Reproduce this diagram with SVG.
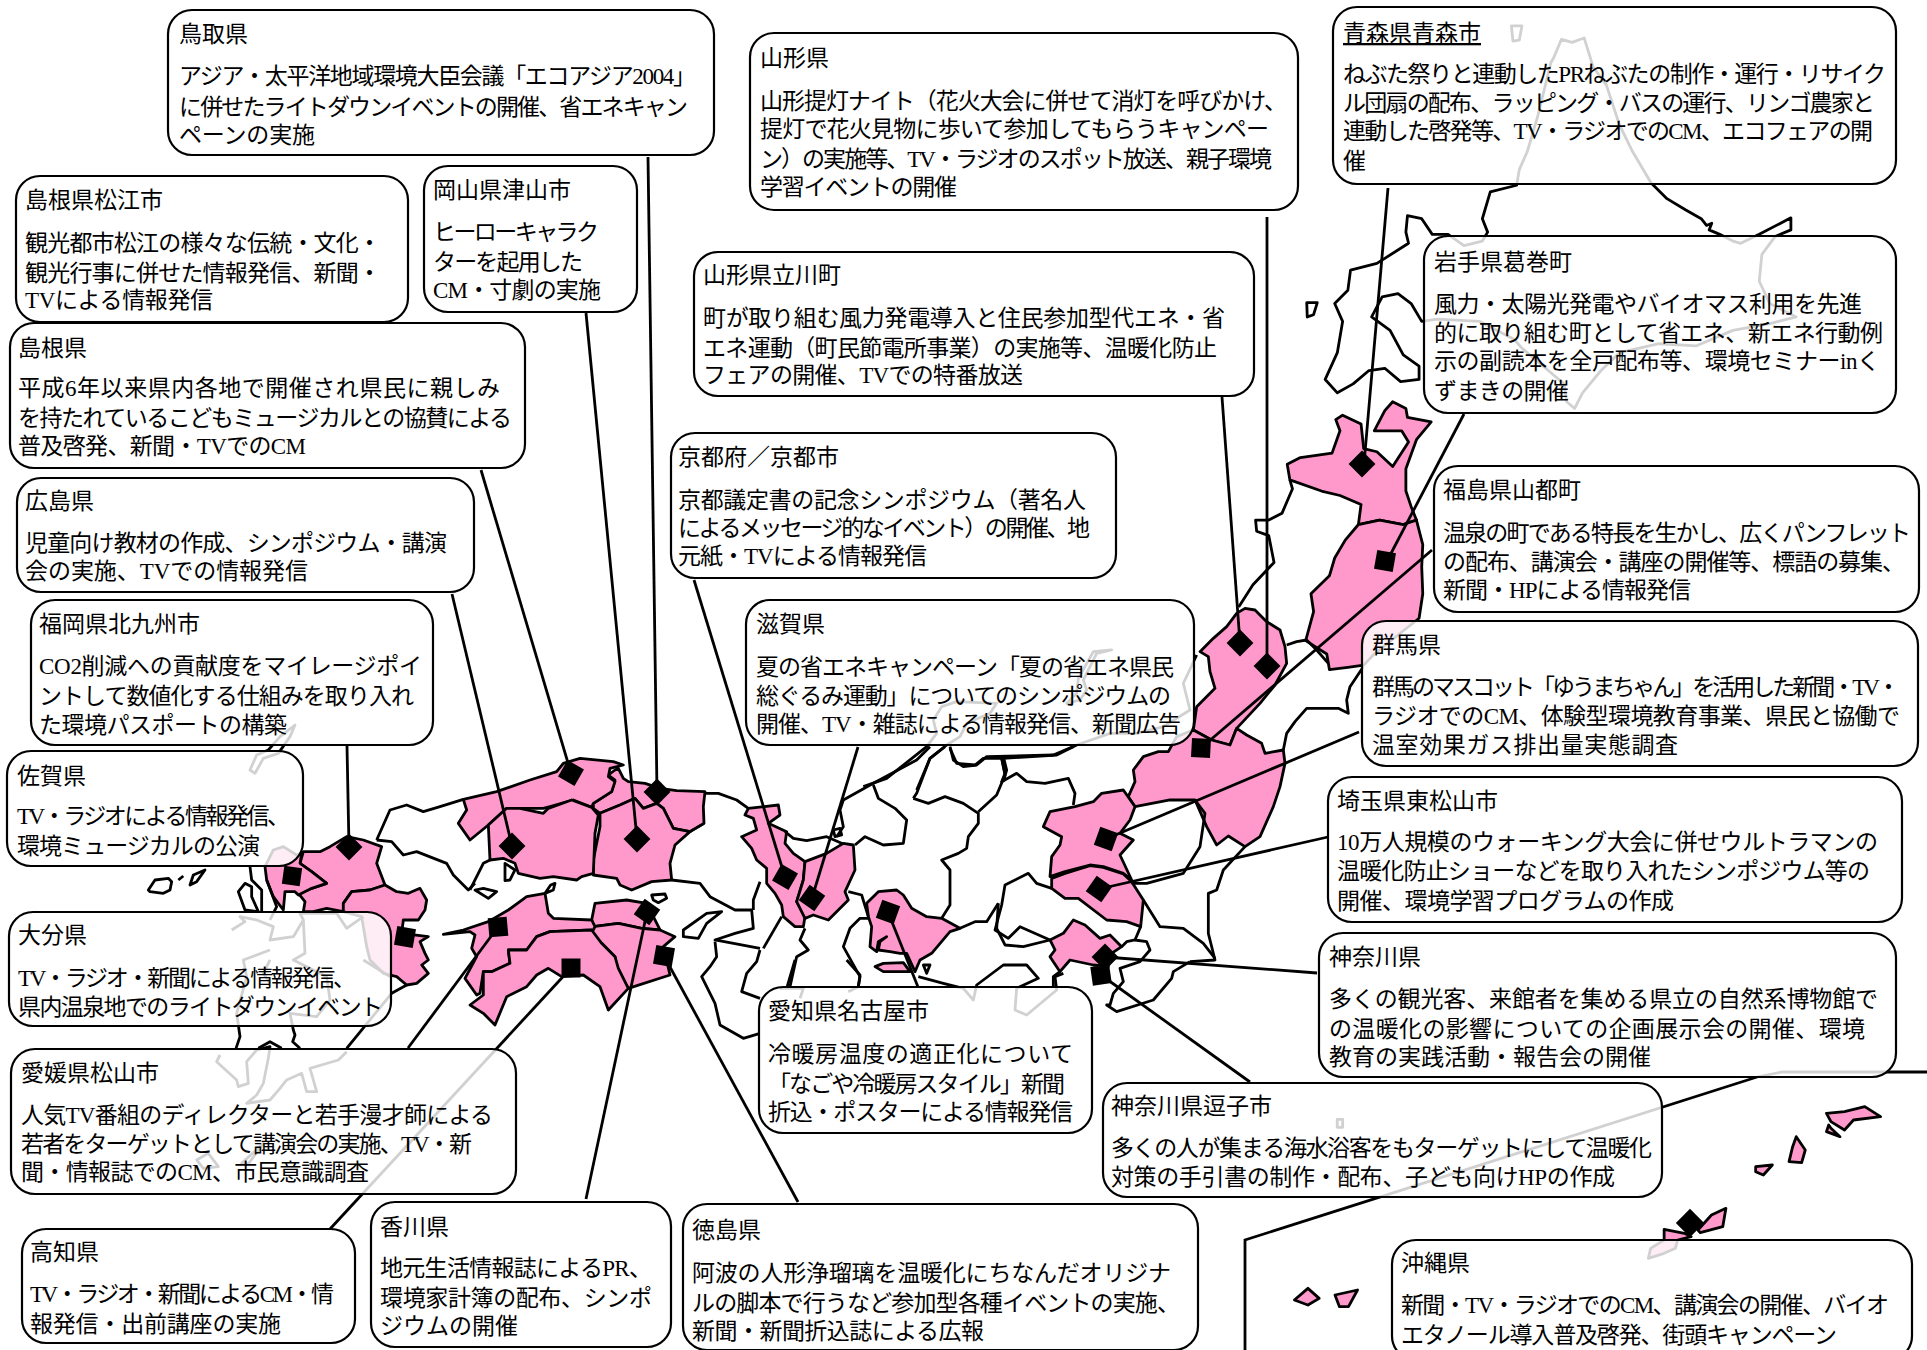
<svg xmlns="http://www.w3.org/2000/svg" width="1927" height="1350" viewBox="0 0 1927 1350">
<style>
.m{fill:none;stroke:#000;stroke-width:2.8;stroke-linejoin:round;vector-effect:non-scaling-stroke}
.p{fill:#ff99cc;stroke:#000;stroke-width:2.8;stroke-linejoin:round;vector-effect:non-scaling-stroke}
.c{stroke:#000;stroke-width:2.8;fill:none}
.d{fill:#000}
.b{fill:#fff;fill-opacity:.82;stroke:#000;stroke-width:2.2}
text{font-family:"Liberation Serif","Noto Sans CJK JP",sans-serif;font-size:23px;fill:#000}
</style>
<rect width="1927" height="1350" fill="#fff"/>
<g id="map">
<g id="map-north" transform="translate(1100,0) scale(.5274,.4464)">
<path class="m" d="M780,58L800,58L795,90L783,92Z"/>
<path class="m" d="M860,130L875,88L895,95L918,85L935,150L960,190L985,280L1010,340L1045,410L1075,445L1110,470L1140,490L1150,505L1160,500L1155,515L1175,525L1200,540L1215,545L1250,525L1310,488L1310,515L1280,530L1255,570L1250,630L1270,680L1320,710L1270,725L1200,740L1130,775L1060,770L985,790L950,830L915,880L900,915L885,900L880,860L850,830L800,780L785,760L720,720L640,715L610,720L590,680L565,658L535,665L515,710L550,740L575,795L605,820L605,850L570,855L540,825L510,830L480,860L450,880L427,850L450,790L460,720L445,680L470,650L475,605L525,590L585,545L580,520L583,483L610,490L630,525L660,525L690,550L725,540L735,520L725,490L740,430L790,415L795,380L810,340L830,260L855,140Z"/>
<path class="m" d="M392,678L412,678L405,705L393,710Z"/>
<path class="p" d="M355,1040L380,1025L440,1015L455,965L447,940L460,930L495,950L500,1005L525,1012L555,1045L585,990L572,965L520,965L540,920L555,900L580,915L583,935L628,945L600,985L580,1050L580,1100L590,1135L600,1165L575,1175L530,1165L490,1175L495,1130L455,1110L420,1100L360,1075Z"/>
<path class="p" d="M490,1175L530,1165L575,1175L600,1165L612,1220L610,1270L612,1330L605,1385L520,1465L500,1490L470,1495L435,1500L430,1465L390,1435L405,1370L400,1330L435,1290L445,1250L465,1210Z"/>
<path class="m" d="M360,1075L365,1095L345,1150L320,1165L295,1165L297,1190L320,1200L330,1260L290,1310L263,1360"/>
</g>
<g id="map-kanto" transform="translate(950,600) scale(.33333)">
<path class="p" d="M730,390L740,320L795,265L780,215L775,170L750,155L790,115L830,80L860,40L885,25L915,30L950,65L990,90L1005,140L1010,190L975,255L930,310L860,385L840,435L785,420Z"/>
<path class="p" d="M860,385L890,405L935,430L945,460L1000,450L1005,490L990,560L970,620L930,710L885,740L835,708L800,735L770,680L735,600L660,600L555,620L535,590L555,545L550,510L580,470L625,455L655,455L680,410L730,390L785,420L840,435Z"/>
<path class="p" d="M555,620L520,570L455,580L430,605L375,620L300,635L280,680L335,710L330,735L305,770L300,830L345,815L420,795L460,800L520,820L545,840L510,765L550,720L510,700L540,660Z"/>
<path class="p" d="M305,835L345,820L420,797L460,802L520,822L545,845L580,900L572,980L530,965L470,960L385,895L345,895L305,865Z"/>
<path class="p" d="M300,1020L340,1000L370,960L405,975L450,1015L480,1005L515,1040L470,1070L475,1100L430,1095L360,1080L330,1115L300,1070L315,1050Z"/>
<path class="m" d="M1010,135L1040,125L1070,120L1100,150L1135,190"/>
<path class="m" d="M1240,200L1200,260L1190,300L1195,340L1175,330L1165,325L1070,325L1035,365L1010,400L1000,450"/>
<path class="m" d="M740,165L700,250L720,330L640,380L560,400L480,400L380,435L320,465L160,475L100,475L75,495L20,490L0,445"/>
<path class="m" d="M155,475L165,520L155,545L200,520L230,545L285,550L355,535L375,580L370,615"/>
<path class="m" d="M305,865L260,850L235,820L165,855L155,915L135,990L175,1015L210,980L300,1020"/>
<path class="m" d="M735,600L765,640L750,740L700,820L590,850L545,850"/>
<path class="m" d="M885,740L820,810L800,870L775,880L775,1000L795,1080L720,1085"/>
<path class="m" d="M580,900L630,980L700,985L760,1030L795,1075"/>
<path class="m" d="M572,980L555,1020L590,1025L600,1050L570,1085L510,1105L520,1145L490,1180L480,1215L470,1215L500,1235L610,1200L665,1135L670,1115L720,1085"/>
<path class="m" d="M515,1040L530,1025L555,1020"/>
<path class="m" d="M330,1115L310,1130L310,1160"/>
</g>
<g id="map-noto" transform="translate(720,590) scale(.33333)">
<path class="m" d="M430,590L500,565L620,470L650,430L640,390L665,350L710,335L830,340L810,370L740,400L720,440L680,465L630,505L590,600"/>
<path class="m" d="M1175,180L1130,190L1090,270L1100,300L1080,330L1040,340L1070,310L1075,265L1120,185Z"/>
<path class="m" d="M690,470L700,510L730,530L770,525L800,500L1000,495L1060,470"/>
<path class="m" d="M850,500L860,540L850,575"/>
</g>
<g id="map-center" transform="translate(550,720) scale(.33333)">
<path class="p" d="M595,265L685,255L690,285L655,310L710,335L705,370L730,400L765,425L760,480L740,545L765,590L760,620L735,620L700,590L695,555L675,520L650,490L650,445L620,420L605,385L575,350L620,330L610,295L585,285Z"/>
<path class="p" d="M765,425L830,400L880,370L910,375L915,450L885,515L895,540L835,600L790,585L765,595L740,545L760,480Z"/>
<path class="p" d="M955,590L950,550L985,515L1040,510L1060,525L1085,565L1130,590L1175,595L1230,625L1200,635L1145,700L1110,720L1095,755L1070,700L1050,700L1020,695L985,690L990,665L1010,650L985,665L980,695L960,680L965,620Z"/>
<path class="p" d="M975,740L1000,730L1060,728L1080,755L1000,755Z"/>
<path class="p" d="M195,150L205,145L220,175L235,185L285,190L330,205L380,212L465,215L460,260L462,310L420,335L370,325L355,295L340,265L320,250L280,265L255,235L210,255L150,280L130,265L130,250L185,215L195,180L175,165Z"/>
<path class="p" d="M150,280L210,255L255,235L280,265L320,250L340,265L370,325L420,335L375,375L360,430L365,480L305,485L245,510L210,495L200,475L130,465L130,420L150,320Z"/>
<path class="p" d="M135,550L230,540L290,550L300,570L330,630L275,625L205,610L130,620L125,600Z"/>
<path class="p" d="M130,620L205,610L275,625L330,630L375,650L340,680L360,765L235,805L225,790L200,740L195,710L155,670L125,650Z"/>
<path class="m" d="M305,525L345,522L350,535L325,548L310,540Z"/>
<path class="m" d="M400,630L470,580L515,575L470,610L445,655L400,650Z"/>
<path class="m" d="M1140,80L1100,120L970,190L880,240L870,270L880,320L860,350"/>
<path class="m" d="M850,330L870,325L875,345L855,350Z"/>
<path class="m" d="M1185,80L1140,115L1100,220L1090,235"/>
<path class="m" d="M970,195L985,235L1035,265L1070,300L1060,370L1000,375L945,350L915,375"/>
<path class="m" d="M1090,235L1135,250L1185,230L1240,250L1285,280L1285,310L1255,350L1250,385L1225,400L1175,420L1200,450L1200,555L1175,595"/>
<path class="m" d="M1285,275L1340,225L1365,165L1355,115"/>
<path class="m" d="M705,335L730,355L770,362L830,350L880,372"/>
<path class="m" d="M465,220L505,220L560,240L595,265"/>
<path class="m" d="M462,310L420,335"/>
<path class="m" d="M365,480L450,490L480,530L555,570L605,570L610,625L555,640L495,660L630,685"/>
<path class="m" d="M630,690L620,725L590,760L575,815L630,835"/>
<path class="m" d="M495,665L500,710L480,740L455,770L495,850L510,915L580,955L630,940"/>
<path class="m" d="M640,685L695,590"/>
<path class="m" d="M630,485L610,540L610,570"/>
<path class="m" d="M765,625L750,660L775,690L740,710L720,800"/>
<path class="m" d="M895,515L935,525L955,590"/>
<path class="m" d="M955,595L930,595L900,625L880,680L930,770L925,800"/>
<path class="m" d="M1230,625L1275,605L1310,605L1345,550"/>
<path class="m" d="M1345,550L1340,625L1365,675L1420,680L1500,660"/>
<path class="m" d="M1120,735L1140,735L1130,760Z"/>
</g>
<g id="map-shizuoka" transform="translate(780,960) scale(.33333)">
<path class="m" d="M415,50L490,70L550,85L580,120L590,75L670,15L740,15L775,55L710,85L705,150L740,165L830,90L825,50L850,40"/>
<path class="m" d="M0,85L70,85L60,115M45,0L20,85M200,0L240,45L235,80L205,95"/>
</g>
<g id="map-west" transform="translate(130,720) scale(.33333)">
<path class="p" d="M1000,238L1100,215L1200,180L1280,155L1300,130L1350,115L1450,125L1480,135L1440,145L1435,170L1455,185L1445,215L1390,250L1385,262L1330,240L1260,260L1240,265L1170,265L1130,265L1075,315L1020,360L985,310L1010,270Z"/>
<path class="p" d="M1130,265L1170,265L1240,280L1255,265L1325,240L1385,262L1405,285L1395,340L1390,460L1355,470L1340,480L1270,470L1230,475L1165,460L1155,430L1120,415L1080,420L1075,315Z"/>
<path class="m" d="M740,360L780,270L830,255L880,275L930,260L1000,238"/>
<path class="m" d="M740,360L785,365L820,405L860,395L950,430L970,465L1015,510L1035,490"/>
<path class="m" d="M1020,510L1060,430L1080,420"/>
<path class="m" d="M1035,510L1075,535L1100,515L1060,505Z"/>
<path class="m" d="M1125,430L1155,450L1140,480L1125,482L1125,455Z"/>
<path class="p" d="M520,395L570,395L600,380L650,350L700,360L755,380L740,430L765,495L720,510L665,515L640,550L640,575L590,565L550,575L520,575L525,545L505,520L545,505L590,490L545,455L510,430Z"/>
<path class="p" d="M405,440L430,390L460,380L500,405L515,400L510,430L545,455L590,490L545,505L505,525L495,515L465,515L460,570L430,530L410,480Z"/>
<path class="p" d="M765,495L800,515L835,520L870,505L890,540L885,570L865,600L820,600L815,640L895,650L870,665L885,700L895,720L875,735L895,760L860,790L830,795L800,770L760,760L720,720L710,680L695,590L640,575L640,550L665,515L720,510Z"/>
<path class="m" d="M830,795L785,820L650,985"/>
<path class="m" d="M360,440L365,480L395,510L395,575M345,490L325,515L345,570L385,575L365,530L365,500ZM410,480L440,560L420,600"/>
<path class="m" d="M55,510L75,480L115,475L125,485L120,510L100,520L60,515Z"/>
<path class="m" d="M145,480L160,468M180,495L190,465L225,450L200,485Z"/>
<path class="m" d="M305,630L345,605L330,590L380,600L430,620L420,660L490,650L520,600L510,580L620,580L650,625L700,590"/>
<path class="m" d="M520,600L525,700L490,720L590,770L600,840L560,890L480,880L490,930L495,945L488,965L510,985"/>
<path class="m" d="M420,690L340,720L350,770L320,880L330,950L318,985"/>
<path class="m" d="M700,720L780,770M420,720L400,760L420,790"/>
<path class="m" d="M385,985L420,965L455,985"/>
<path class="m" d="M1245,520L1262,495L1275,490L1270,510L1245,520"/>
<path class="p" d="M1245,520L1255,580L1270,595L1385,600L1395,620L1390,630L1260,635L1220,650L1190,690L1135,690L1140,730L1085,755L1060,755L1050,820L1040,825L1005,775L1040,710L1025,685L1035,645L1020,635L940,643L1000,630L1075,605L1135,570L1190,530Z"/>
<path class="p" d="M1385,630L1415,670L1455,710L1465,745L1495,805L1435,870L1410,800L1360,765L1295,770L1255,745L1220,765L1190,800L1130,830L1095,915L1060,880L1020,855L1060,825L1060,755L1085,755L1140,730L1135,690L1190,690L1220,650L1260,635Z"/>
</g>
<g id="map-south" transform="translate(170,1020) scale(.33333)">
<path class="m" d="M150,105L140,125L200,180L205,200L235,190L230,125L260,90L300,80L295,115L280,190L260,225L230,250L300,240L330,205L350,180L395,160L410,215L440,215L420,145L505,120L530,95"/>
<path class="m" d="M80,420L115,400L145,440L100,445Z"/>
<path class="m" d="M215,430L280,370L235,432Z"/>
</g>
<g id="map-tsushima" transform="translate(200,600) scale(.33333)">
<path class="m" d="M150,510L170,465L205,450L240,410L285,375L270,410L235,460L190,475L165,520Z"/>
</g>
<g id="map-okinawa" transform="translate(1220,1040) scale(.4509,.33333)">
<path class="p" d="M1345,220L1385,215L1430,200L1465,230L1405,240L1385,270L1355,245Z"/>
<path class="p" d="M1350,255L1345,275L1375,290L1355,265Z"/>
<path class="p" d="M1262,365L1270,320L1278,290L1298,330L1290,368Z"/>
<path class="p" d="M1188,380L1225,375L1205,405L1188,395Z"/>
<path class="p" d="M1060,570L1090,525L1122,505L1115,560L1065,578Z"/>
<path class="p" d="M985,600L985,568L1030,580L1045,590L1015,600L1010,625L985,640L950,655L955,625Z"/>
<path class="p" d="M165,780L195,745L220,775L195,795Z"/>
<path class="p" d="M255,765L305,750L285,800L265,800Z"/>
<path class="m" d="M260,238L272,238L272,262L260,262Z"/>
</g>
</g>
<g id="connectors">
<path class="c" d="M648,157L657,792"/>
<path class="c" d="M586,313L637,839"/>
<path class="c" d="M481,470L571,773"/>
<path class="c" d="M452,594L512,846"/>
<path class="c" d="M347,746L349,847"/>
<path class="c" d="M408,1048L498,927"/>
<path class="c" d="M330,1229L571,968"/>
<path class="c" d="M586,1199L647,912"/>
<path class="c" d="M798,1202L664,956"/>
<path class="c" d="M694,580L785,877"/>
<path class="c" d="M858,747L812,898"/>
<path class="c" d="M918,987L888,912"/>
<path class="c" d="M1222,397L1240,643"/>
<path class="c" d="M1267,217L1267,666"/>
<path class="c" d="M1388,188L1364,464"/>
<path class="c" d="M1464,414L1387,561"/>
<path class="c" d="M1432,550L1201,748"/>
<path class="c" d="M1359,732L1106,839"/>
<path class="c" d="M1328,837L1099,889"/>
<path class="c" d="M1317,973L1105,957"/>
<path class="c" d="M1250,1082L1101,975"/>
<path class="c" d="M1245,1350L1245,1240L1757,1077L1782,1072L1927,1072"/>
</g>
<g id="markers">
<rect class="d" x="-9.5" y="-9.5" width="19" height="19" transform="translate(657,792) rotate(45)"/>
<rect class="d" x="-9.5" y="-9.5" width="19" height="19" transform="translate(637,839) rotate(45)"/>
<rect class="d" x="-9.5" y="-9.5" width="19" height="19" transform="translate(571,773) rotate(30)"/>
<rect class="d" x="-9.5" y="-9.5" width="19" height="19" transform="translate(512,846) rotate(45)"/>
<rect class="d" x="-9.5" y="-9.5" width="19" height="19" transform="translate(349,847) rotate(45)"/>
<rect class="d" x="-9" y="-9" width="18" height="18" transform="translate(292,876) rotate(8)"/>
<rect class="d" x="-9.5" y="-9.5" width="19" height="19" transform="translate(405,937) rotate(10)"/>
<rect class="d" x="-9.5" y="-9.5" width="19" height="19" transform="translate(498,927) rotate(-5)"/>
<rect class="d" x="-9.5" y="-9.5" width="19" height="19" transform="translate(571,968)"/>
<rect class="d" x="-9.5" y="-9.5" width="19" height="19" transform="translate(647,912) rotate(35)"/>
<rect class="d" x="-9.5" y="-9.5" width="19" height="19" transform="translate(664,956) rotate(10)"/>
<rect class="d" x="-9.5" y="-9.5" width="19" height="19" transform="translate(785,877) rotate(30)"/>
<rect class="d" x="-9.5" y="-9.5" width="19" height="19" transform="translate(812,898) rotate(35)"/>
<rect class="d" x="-9.5" y="-9.5" width="19" height="19" transform="translate(888,912) rotate(20)"/>
<rect class="d" x="-9.5" y="-9.5" width="19" height="19" transform="translate(1240,643) rotate(45)"/>
<rect class="d" x="-9.5" y="-9.5" width="19" height="19" transform="translate(1267,666) rotate(45)"/>
<rect class="d" x="-9.5" y="-9.5" width="19" height="19" transform="translate(1362,464) rotate(45)"/>
<rect class="d" x="-9.5" y="-9.5" width="19" height="19" transform="translate(1385,561) rotate(10)"/>
<rect class="d" x="-9.5" y="-9.5" width="19" height="19" transform="translate(1201,748) rotate(3)"/>
<rect class="d" x="-9.5" y="-9.5" width="19" height="19" transform="translate(1106,839) rotate(20)"/>
<rect class="d" x="-9.5" y="-9.5" width="19" height="19" transform="translate(1099,889) rotate(35)"/>
<rect class="d" x="-9.5" y="-9.5" width="19" height="19" transform="translate(1105,957) rotate(45)"/>
<rect class="d" x="-9.5" y="-9.5" width="19" height="19" transform="translate(1101,975) rotate(-8)"/>
<rect class="d" x="-10" y="-10" width="20" height="20" transform="translate(1690,1223) rotate(45)"/>
</g>
<g id="n-tottori"><rect class="b" x="168" y="10" width="546" height="145" rx="24"/><text x="179" y="42">鳥取県</text><text x="179" y="84" textLength="517">アジア・太平洋地域環境大臣会議「エコアジア2004」</text><text x="179" y="115" textLength="509">に併せたライトダウンイベントの開催、省エネキャン</text><text x="179" y="143" textLength="136">ペーンの実施</text></g>
<g id="n-yamagata"><rect class="b" x="750" y="33" width="548" height="177" rx="24"/><text x="760" y="66">山形県</text><text x="760" y="109" textLength="527">山形提灯ナイト（花火大会に併せて消灯を呼びかけ、</text><text x="760" y="137" textLength="509">提灯で花火見物に歩いて参加してもらうキャンペー</text><text x="760" y="167" textLength="512">ン）の実施等、TV・ラジオのスポット放送、親子環境</text><text x="760" y="195" textLength="197">学習イベントの開催</text></g>
<g id="n-aomori"><rect class="b" x="1333" y="7" width="563" height="177" rx="24"/><text x="1343" y="41" text-decoration="underline">青森県青森市</text><text x="1343" y="82" textLength="543">ねぶた祭りと連動したPRねぶたの制作・運行・リサイク</text><text x="1343" y="111" textLength="532">ル団扇の配布、ラッピング・バスの運行、リンゴ農家と</text><text x="1343" y="139" textLength="530">連動した啓発等、TV・ラジオでのCM、エコフェアの開</text><text x="1343" y="169">催</text></g>
<g id="n-iwate"><rect class="b" x="1424" y="236" width="472" height="177" rx="24"/><text x="1434" y="270">岩手県葛巻町</text><text x="1434" y="312" textLength="428">風力・太陽光発電やバイオマス利用を先進</text><text x="1434" y="341" textLength="449">的に取り組む町として省エネ、新エネ行動例</text><text x="1434" y="369" textLength="446">示の副読本を全戸配布等、環境セミナーinく</text><text x="1434" y="399" textLength="135">ずまきの開催</text></g>
<g id="n-fukushima"><rect class="b" x="1434" y="466" width="485" height="146" rx="24"/><text x="1443" y="498">福島県山都町</text><text x="1443" y="541" textLength="468">温泉の町である特長を生かし、広くパンフレット</text><text x="1443" y="570" textLength="462">の配布、講演会・講座の開催等、標語の募集、</text><text x="1443" y="598" textLength="248">新聞・HPによる情報発信</text></g>
<g id="n-gunma"><rect class="b" x="1362" y="621" width="556" height="145" rx="24"/><text x="1372" y="653">群馬県</text><text x="1372" y="695" textLength="528">群馬のマスコット「ゆうまちゃん」を活用した新聞・TV・</text><text x="1372" y="724" textLength="528">ラジオでのCM、体験型環境教育事業、県民と協働で</text><text x="1372" y="753" textLength="306">温室効果ガス排出量実態調査</text></g>
<g id="n-saitama"><rect class="b" x="1328" y="777" width="574" height="145" rx="24"/><text x="1337" y="809">埼玉県東松山市</text><text x="1337" y="850" textLength="541">10万人規模のウォーキング大会に併せウルトラマンの</text><text x="1337" y="879" textLength="533">温暖化防止ショーなどを取り入れたシンポジウム等の</text><text x="1337" y="909" textLength="337">開催、環境学習プログラムの作成</text></g>
<g id="n-kanagawa"><rect class="b" x="1319" y="933" width="577" height="144" rx="24"/><text x="1329" y="965">神奈川県</text><text x="1329" y="1007" textLength="549">多くの観光客、来館者を集める県立の自然系博物館で</text><text x="1329" y="1037" textLength="536">の温暖化の影響についての企画展示会の開催、環境</text><text x="1329" y="1065" textLength="322">教育の実践活動・報告会の開催</text></g>
<g id="n-zushi"><rect class="b" x="1103" y="1083" width="559" height="114" rx="24"/><text x="1111" y="1114">神奈川県逗子市</text><text x="1111" y="1156" textLength="541">多くの人が集まる海水浴客をもターゲットにして温暖化</text><text x="1111" y="1185" textLength="504">対策の手引書の制作・配布、子ども向けHPの作成</text></g>
<g id="n-okinawa"><rect class="b" x="1392" y="1240" width="520" height="120" rx="24"/><text x="1401" y="1271">沖縄県</text><text x="1401" y="1313" textLength="488">新聞・TV・ラジオでのCM、講演会の開催、バイオ</text><text x="1401" y="1343" textLength="436">エタノール導入普及啓発、街頭キャンペーン</text></g>
<g id="n-tokushima"><rect class="b" x="683" y="1204" width="515" height="146" rx="24"/><text x="692" y="1238">徳島県</text><text x="692" y="1281" textLength="479">阿波の人形浄瑠璃を温暖化にちなんだオリジナ</text><text x="692" y="1311" textLength="488">ルの脚本で行うなど参加型各種イベントの実施、</text><text x="692" y="1339" textLength="292">新聞・新聞折込誌による広報</text></g>
<g id="n-kagawa"><rect class="b" x="371" y="1202" width="300" height="145" rx="24"/><text x="380" y="1235">香川県</text><text x="380" y="1276" textLength="272">地元生活情報誌によるPR、</text><text x="380" y="1306" textLength="272">環境家計簿の配布、シンポ</text><text x="380" y="1334" textLength="138">ジウムの開催</text></g>
<g id="n-kochi"><rect class="b" x="22" y="1229" width="333" height="114" rx="24"/><text x="30" y="1260">高知県</text><text x="30" y="1302" textLength="304">TV・ラジオ・新聞によるCM・情</text><text x="30" y="1332" textLength="251">報発信・出前講座の実施</text></g>
<g id="n-ehime"><rect class="b" x="11" y="1049" width="505" height="145" rx="24"/><text x="21" y="1081">愛媛県松山市</text><text x="21" y="1123" textLength="472">人気TV番組のディレクターと若手漫才師による</text><text x="21" y="1152" textLength="451">若者をターゲットとして講演会の実施、TV・新</text><text x="21" y="1180" textLength="348">聞・情報誌でのCM、市民意識調査</text></g>
<g id="n-oita"><rect class="b" x="9" y="912" width="382" height="114" rx="24"/><text x="18" y="943">大分県</text><text x="18" y="986" textLength="338">TV・ラジオ・新聞による情報発信、</text><text x="18" y="1015" textLength="365">県内温泉地でのライトダウンイベント</text></g>
<g id="n-saga"><rect class="b" x="7" y="751" width="296" height="115" rx="24"/><text x="17" y="784">佐賀県</text><text x="17" y="824" textLength="273">TV・ラジオによる情報発信、</text><text x="17" y="854" textLength="243">環境ミュージカルの公演</text></g>
<g id="n-fukuoka"><rect class="b" x="31" y="600" width="402" height="145" rx="24"/><text x="39" y="632">福岡県北九州市</text><text x="39" y="674" textLength="383">CO2削減への貢献度をマイレージポイ</text><text x="39" y="704" textLength="375">ントして数値化する仕組みを取り入れ</text><text x="39" y="733" textLength="248">た環境パスポートの構築</text></g>
<g id="n-hiroshima"><rect class="b" x="17" y="478" width="457" height="114" rx="24"/><text x="25" y="509">広島県</text><text x="25" y="551" textLength="422">児童向け教材の作成、シンポジウム・講演</text><text x="25" y="579" textLength="283">会の実施、TVでの情報発信</text></g>
<g id="n-shimane"><rect class="b" x="10" y="323" width="515" height="145" rx="24"/><text x="18" y="356">島根県</text><text x="18" y="396" textLength="482">平成6年以来県内各地で開催され県民に親しみ</text><text x="18" y="426" textLength="494">を持たれているこどもミュージカルとの協賛による</text><text x="18" y="454" textLength="288">普及啓発、新聞・TVでのCM</text></g>
<g id="n-matsue"><rect class="b" x="16" y="176" width="392" height="146" rx="24"/><text x="25" y="208">島根県松江市</text><text x="25" y="251" textLength="356">観光都市松江の様々な伝統・文化・</text><text x="25" y="281" textLength="356">観光行事に併せた情報発信、新聞・</text><text x="25" y="308" textLength="188">TVによる情報発信</text></g>
<g id="n-okayama"><rect class="b" x="424" y="166" width="213" height="146" rx="24"/><text x="433" y="198">岡山県津山市</text><text x="433" y="240" textLength="166">ヒーローキャラク</text><text x="433" y="270" textLength="150">ターを起用した</text><text x="433" y="298" textLength="168">CM・寸劇の実施</text></g>
<g id="n-tachikawa"><rect class="b" x="694" y="252" width="560" height="144" rx="24"/><text x="703" y="283">山形県立川町</text><text x="703" y="326" textLength="522">町が取り組む風力発電導入と住民参加型代エネ・省</text><text x="703" y="356" textLength="514">エネ運動（町民節電所事業）の実施等、温暖化防止</text><text x="703" y="383" textLength="320">フェアの開催、TVでの特番放送</text></g>
<g id="n-kyoto"><rect class="b" x="671" y="433" width="445" height="145" rx="24"/><text x="678" y="465">京都府／京都市</text><text x="678" y="508" textLength="408">京都議定書の記念シンポジウム（著名人</text><text x="678" y="536" textLength="412">によるメッセージ的なイベント）の開催、地</text><text x="678" y="564" textLength="249">元紙・TVによる情報発信</text></g>
<g id="n-shiga"><rect class="b" x="746" y="600" width="448" height="145" rx="24"/><text x="756" y="632">滋賀県</text><text x="756" y="675" textLength="418">夏の省エネキャンペーン「夏の省エネ県民</text><text x="756" y="704" textLength="415">総ぐるみ運動」についてのシンポジウムの</text><text x="756" y="732" textLength="425">開催、TV・雑誌による情報発信、新聞広告</text></g>
<g id="n-aichi"><rect class="b" x="759" y="987" width="333" height="146" rx="24"/><text x="768" y="1019">愛知県名古屋市</text><text x="768" y="1062" textLength="305">冷暖房温度の適正化について</text><text x="768" y="1092" textLength="297">「なごや冷暖房スタイル」新聞</text><text x="768" y="1120" textLength="305">折込・ポスターによる情報発信</text></g>
</svg>
